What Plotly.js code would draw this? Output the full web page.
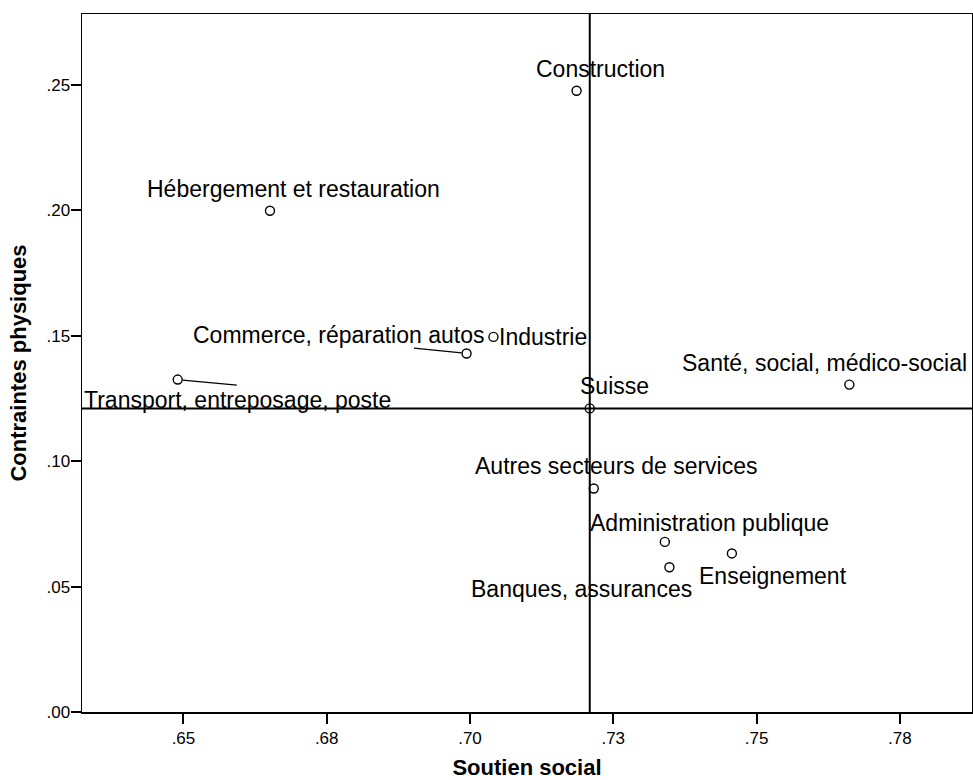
<!DOCTYPE html>
<html>
<head>
<meta charset="utf-8">
<script src="https://cdn.plot.ly/plotly-3.0.1.min.js"></script>
<style>html,body{margin:0;padding:0;background:#fff;}#chart{width:973px;height:780px;}</style>
</head>
<body>
<div id="chart"></div>
<script>
// Data
const sectors = [
  "Hébergement et restauration",
  "Construction",
  "Commerce, réparation autos",
  "Industrie",
  "Transport, entreposage, poste",
  "Suisse",
  "Santé, social, médico-social",
  "Autres secteurs de services",
  "Administration publique",
  "Enseignement",
  "Banques, assurances"
];
const soutienSocial = [0.6651, 0.7186, 0.6994, 0.7041, 0.6490, 0.7209, 0.7662, 0.7216, 0.7340, 0.7457, 0.7348];
const contraintesPhysiques = [0.1998, 0.2476, 0.1429, 0.1495, 0.1325, 0.1210, 0.1305, 0.0891, 0.0678, 0.0632, 0.0577];
const xTickVals = [0.65, 0.675, 0.70, 0.725, 0.75, 0.775];
const xTickText = [".65", ".68", ".70", ".73", ".75", ".78"];
const yTickVals = [0, 0.05, 0.10, 0.15, 0.20, 0.25];
const yTickText = [".00", ".05", ".10", ".15", ".20", ".25"];
const referenceName = "Suisse";

// Label placement (pixel offsets from each point)
const labelDx = [23.3, 23.8, -127.9, 49.2, 59.8, 24.3, -24.6, 22.3, 44.5, 40.8, -87.6];
const labelDy = [21.5, 22.0, 18.8, 0.4, -20.2, 22.8, 21.8, 22.5, 18.9, -22.2, -22.2];
// Leader lines (pixel offsets of line end from point)
const leaders = { "Transport, entreposage, poste": [60.6, 5.7], "Commerce, réparation autos": [-54, -5.6] };

const FONT = "'Liberation Sans', Arial, sans-serif";
const ri = sectors.indexOf(referenceName);
const refX = soutienSocial[ri], refY = contraintesPhysiques[ri];

const annotations = [];
sectors.forEach((s, i) => {
  annotations.push({
    x: soutienSocial[i], y: contraintesPhysiques[i], xref: 'x', yref: 'y',
    text: s, showarrow: false, xanchor: 'center', yanchor: 'middle',
    xshift: labelDx[i], yshift: labelDy[i],
    font: {family: FONT, size: 23, color: '#000'}
  });
  if (leaders[s]) {
    annotations.push({
      x: soutienSocial[i], y: contraintesPhysiques[i], xref: 'x', yref: 'y',
      text: '', showarrow: true, arrowhead: 0, arrowwidth: 1.3, arrowcolor: '#000',
      ax: leaders[s][0], ay: leaders[s][1], standoff: 5
    });
  }
});

const trace = {
  type: 'scatter', mode: 'markers',
  x: soutienSocial, y: contraintesPhysiques, text: sectors,
  marker: {symbol: 'circle-open', size: 9, color: '#000', line: {width: 1.4, color: '#000'}},
  hoverinfo: 'text+x+y', cliponaxis: false
};

const layout = {
  width: 973, height: 780,
  margin: {l: 82, r: 1, t: 14, b: 68},
  paper_bgcolor: '#fff', plot_bgcolor: '#fff',
  showlegend: false,
  font: {family: FONT, color: '#000'},
  xaxis: {
    range: [0.6323, 0.7876], tickvals: xTickVals, ticktext: xTickText,
    showgrid: false, zeroline: false, showline: true, mirror: true,
    linecolor: '#000', linewidth: 1.5, ticks: 'outside', ticklen: 10, tickwidth: 2, tickcolor: '#000',
    tickfont: {family: FONT, size: 17, color: '#000'},
    title: {text: 'Soutien social', font: {family: FONT, size: 22, color: '#000', weight: 'bold'}, standoff: 22}
  },
  yaxis: {
    range: [0, 0.2782], tickvals: yTickVals, ticktext: yTickText,
    showgrid: false, zeroline: false, showline: true, mirror: true,
    linecolor: '#000', linewidth: 1.5, ticks: 'outside', ticklen: 10, tickwidth: 2, tickcolor: '#000',
    tickfont: {family: FONT, size: 17, color: '#000'}, ticklabelstandoff: -3,
    title: {text: 'Contraintes physiques', font: {family: FONT, size: 22, color: '#000', weight: 'bold'}, standoff: 14}
  },
  shapes: [
    {type: 'line', xref: 'x', yref: 'paper', x0: refX, x1: refX, y0: 0, y1: 1, line: {color: '#000', width: 2}},
    {type: 'line', xref: 'paper', yref: 'y', x0: 0, x1: 1, y0: refY, y1: refY, line: {color: '#000', width: 2}}
  ],
  annotations: annotations
};

Plotly.newPlot('chart', [trace], layout, {displayModeBar: false, staticPlot: true});
</script>
</body>
</html>
